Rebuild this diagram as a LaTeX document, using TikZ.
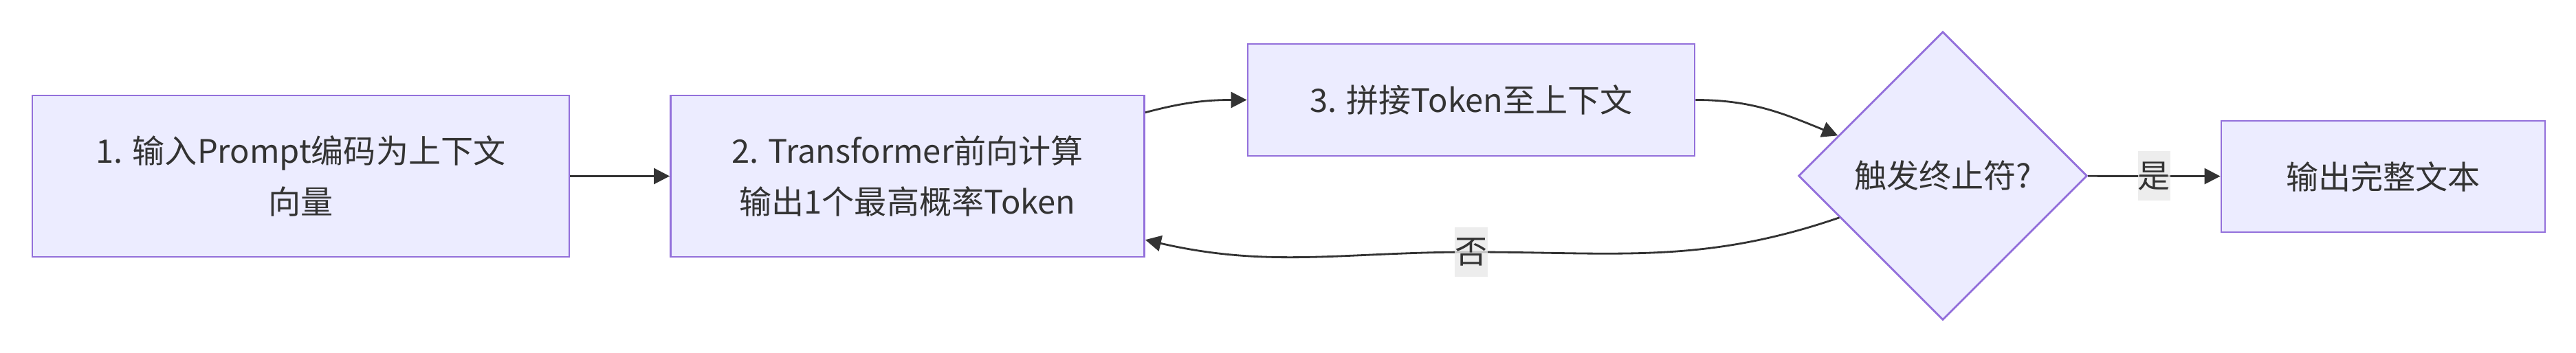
\documentclass[tikz,border=0pt]{standalone}
\usepackage{fontspec}
\setmainfont{Noto Sans CJK SC}
\usetikzlibrary{arrows.meta,shapes.geometric}

\definecolor{nodefill}{HTML}{ECECFF}
\definecolor{nodeline}{HTML}{9370DB}
\definecolor{edgeline}{HTML}{333333}
\definecolor{labelfill}{HTML}{E8E8E8}

\begin{document}
\begin{tikzpicture}[>={Triangle[length=0.23cm,width=0.23cm]}, ->, line width=0.8pt, color=edgeline, font=\fontsize{13.4}{21}\selectfont]
  \tikzstyle{node}=[rectangle, draw=nodeline, fill=nodefill, inner sep=0pt, align=center]
  \tikzstyle{decision}=[node, diamond, minimum width=4.2cm, minimum height=4.2cm]
  \tikzstyle{edgelabel}=[fill=labelfill, fill opacity=0.8, text opacity=1, inner sep=0pt, minimum width=0.47cm, minimum height=0.72cm]

  \useasboundingbox (0, 0) rectangle (37.47, 5.14);

  \node[node, minimum width=7.81cm, minimum height=2.35cm] (1) at (4.375, 2.575) {1. 输入Prompt编码为上下文\\向量};
  \node[node, minimum width=6.89cm, minimum height=2.35cm] (2) at (13.20, 2.575) {2. Transformer前向计算\\输出1个最高概率Token};
  \node[node, minimum width=6.50cm, minimum height=1.63cm] (3) at (21.40, 3.685) {3. 拼接Token至上下文};
  \node[decision] (4) at (28.26, 2.58) {触发终止符?};
  \node[node, minimum width=4.71cm, minimum height=1.62cm] (5) at (34.665, 2.57) {输出完整文本};

  \coordinate (nomid) at (21.40, 1.47);

  \path (1) edge (2);
  \path (2.15) edge[out=15, in=180] (3.west);
  \path (3.east) edge[out=0, in=158] (4.159);
  \path (4) edge node[edgelabel] {是} (5);
  \draw (4.202) to[out=199, in=0] (nomid) node[edgelabel] {否} to[out=180, in=347] (2.345);
\end{tikzpicture}
\end{document}
